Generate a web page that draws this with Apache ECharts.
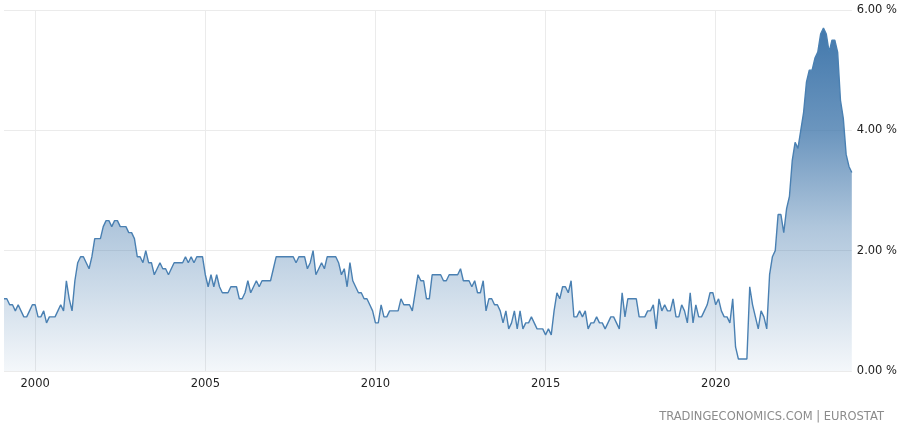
<!DOCTYPE html>
<html>
<head>
<meta charset="utf-8">
<script src="https://cdn.jsdelivr.net/npm/echarts/dist/echarts.min.js"></script>
<style>
  html, body { margin: 0; padding: 0; background: #fff; }
  #main { width: 900px; height: 432px; }
</style>
</head>
<body>
<div id="main"></div>
<script>
// 月度数据，从 1999-02 开始
var firstYear = 1999;
var firstMonth = 2;
var coreInflation = [
  1.2, 1.2, 1.1, 1.1, 1.0, 1.1, 1.0, 0.9, 0.9, 1.0, 1.1,
  1.1, 0.9, 0.9, 1.0, 0.8, 0.9, 0.9, 0.9, 1.0, 1.1, 1.0, 1.5,
  1.2, 1.0, 1.5, 1.8, 1.9, 1.9, 1.8, 1.7, 1.9, 2.2, 2.2, 2.2,
  2.4, 2.5, 2.5, 2.4, 2.5, 2.5, 2.4, 2.4, 2.4, 2.3, 2.3, 2.2,
  1.9, 1.9, 1.8, 2.0, 1.8, 1.8, 1.6, 1.7, 1.8, 1.7, 1.7, 1.6,
  1.7, 1.8, 1.8, 1.8, 1.8, 1.9, 1.8, 1.9, 1.8, 1.9, 1.9, 1.9,
  1.6, 1.4, 1.6, 1.4, 1.6, 1.4, 1.3, 1.3, 1.3, 1.4, 1.4, 1.4,
  1.2, 1.2, 1.3, 1.5, 1.3, 1.4, 1.5, 1.4, 1.5, 1.5, 1.5, 1.5,
  1.7, 1.9, 1.9, 1.9, 1.9, 1.9, 1.9, 1.9, 1.8, 1.9, 1.9, 1.9,
  1.7, 1.8, 2.0, 1.6, 1.7, 1.8, 1.7, 1.9, 1.9, 1.9, 1.9, 1.8,
  1.6, 1.7, 1.4, 1.8, 1.5, 1.4, 1.3, 1.3, 1.2, 1.2, 1.1, 1.0,
  0.8, 0.8, 1.1, 0.9, 0.9, 1.0, 1.0, 1.0, 1.0, 1.2, 1.1, 1.1,
  1.1, 1.0, 1.3, 1.6, 1.5, 1.5, 1.2, 1.2, 1.6, 1.6, 1.6, 1.6,
  1.5, 1.5, 1.6, 1.6, 1.6, 1.6, 1.7, 1.5, 1.5, 1.5, 1.4, 1.5,
  1.3, 1.3, 1.5, 1.0, 1.2, 1.2, 1.1, 1.1, 1.0, 0.8, 1.0, 0.7,
  0.8, 1.0, 0.7, 1.0, 0.7, 0.8, 0.8, 0.9, 0.8, 0.7, 0.7, 0.7,
  0.6, 0.7, 0.6, 1.0, 1.3, 1.2, 1.4, 1.4, 1.3, 1.5, 0.9, 0.9,
  1.0, 0.9, 1.0, 0.7, 0.8, 0.8, 0.9, 0.8, 0.8, 0.7, 0.8, 0.9,
  0.9, 0.8, 0.7, 1.3, 0.9, 1.2, 1.2, 1.2, 1.2, 0.9, 0.9, 0.9,
  1.0, 1.0, 1.1, 0.7, 1.2, 1.0, 1.1, 1.0, 1.0, 1.2, 0.9, 0.9,
  1.1, 1.0, 0.8, 1.3, 0.8, 1.1, 0.9, 0.9, 1.0, 1.1, 1.3, 1.3,
  1.1, 1.2, 1.0, 0.9, 0.9, 0.8, 1.2, 0.4, 0.2, 0.2, 0.2, 0.2,
  1.4, 1.1, 0.9, 0.7, 1.0, 0.9, 0.7, 1.6, 1.9, 2.0, 2.6, 2.6,
  2.3, 2.7, 2.9, 3.5, 3.8, 3.7, 4.0, 4.3, 4.8, 5.0, 5.0, 5.2,
  5.3, 5.6, 5.7, 5.6, 5.3, 5.5, 5.5, 5.3, 4.5, 4.2, 3.6, 3.4,
  3.3
];
var yearLabels = ['2000', '2005', '2010', '2015', '2020'];
var yMin = 0;
var yMax = 6;
var yStep = 2;
var sourceText = 'TRADINGECONOMICS.COM | EUROSTAT';

// 横轴类目：年-月
var months = [];
for (var i = 0; i < coreInflation.length; i++) {
  var t = firstMonth - 1 + i;
  var y = firstYear + Math.floor(t / 12);
  var m = (t % 12) + 1;
  months.push(y + '-' + (m < 10 ? '0' + m : m));
}

function isYearTick(index, value) {
  return value.slice(5) === '01' && yearLabels.indexOf(value.slice(0, 4)) >= 0;
}

var myChart = echarts.init(document.getElementById('main'));

var option = {
  animation: false,
  backgroundColor: '#ffffff',
  textStyle: {
    fontFamily: 'DejaVu Sans'
  },
  grid: {
    left: 4,
    right: 47,
    top: 10,
    bottom: 61
  },
  graphic: [{
    type: 'text',
    right: 16,
    top: 411,
    style: {
      text: sourceText,
      fill: '#8c8c8c',
      font: '11.5px "DejaVu Sans"'
    }
  }],
  xAxis: {
    type: 'category',
    boundaryGap: false,
    data: months,
    axisLine: { show: false },
    axisTick: { show: false },
    axisLabel: {
      interval: isYearTick,
      formatter: function (value) {
        return value.slice(0, 4);
      },
      color: '#222222',
      fontSize: 11.5,
      margin: 7
    },
    splitLine: {
      show: true,
      interval: isYearTick,
      lineStyle: { color: '#ebebeb', width: 1 }
    }
  },
  yAxis: {
    type: 'value',
    position: 'right',
    min: yMin,
    max: yMax,
    interval: yStep,
    axisLine: { show: false },
    axisTick: { show: false },
    axisLabel: {
      formatter: function (v) {
        return v.toFixed(2) + ' %';
      },
      color: '#222222',
      fontSize: 11.5,
      margin: 5
    },
    splitLine: {
      lineStyle: { color: '#ebebeb', width: 1 }
    }
  },
  series: [{
    name: 'Core Inflation',
    type: 'line',
    data: coreInflation,
    showSymbol: false,
    lineStyle: {
      color: '#4a80b2',
      width: 1.4
    },
    areaStyle: {
      opacity: 1,
      color: new echarts.graphic.LinearGradient(0, 0, 0, 1, [
        { offset: 0, color: 'rgba(66,120,172,1)' },
        { offset: 0.3, color: 'rgba(66,120,172,0.78)' },
        { offset: 0.58, color: 'rgba(66,120,172,0.42)' },
        { offset: 1, color: 'rgba(66,120,172,0.06)' }
      ])
    }
  }]
};

myChart.setOption(option);
</script>
</body>
</html>
